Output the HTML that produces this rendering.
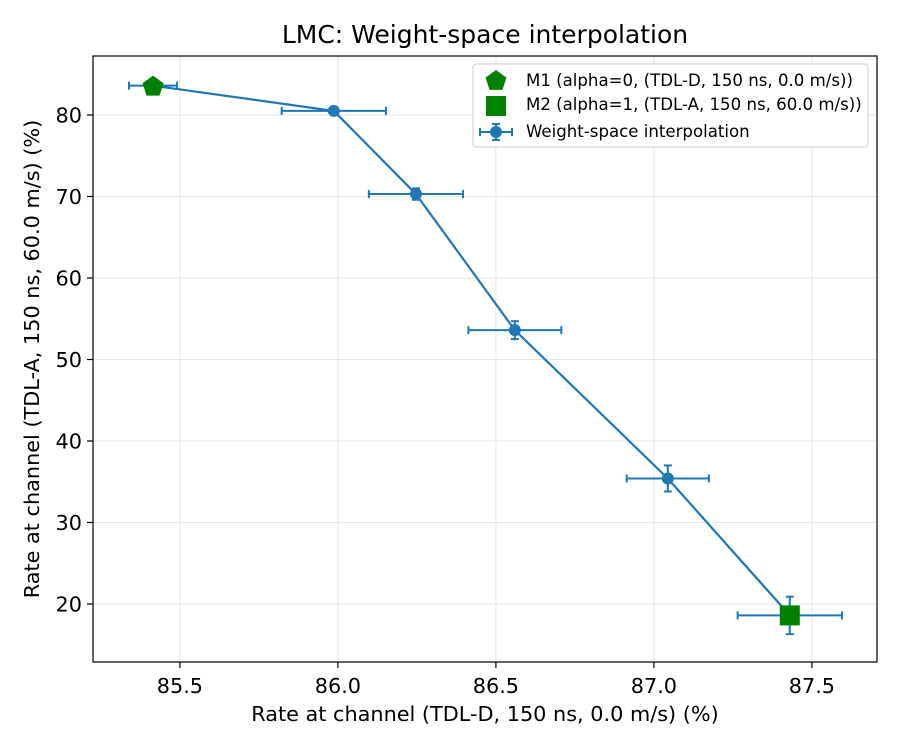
<!DOCTYPE html>
<html><head><meta charset="utf-8"><style>
html,body{margin:0;padding:0;background:#fff;}
svg{display:block;font-family:"DejaVu Sans","Liberation Sans",sans-serif;}
</style></head><body>
<svg id="chart" width="900" height="750" viewBox="0 0 900 750"></svg>
<script>
const xVals=[85.415,85.987,86.247,86.56,87.044,87.43];
const yVals=[83.6,80.5,70.3,53.6,35.4,18.6];
const xErr=[0.076,0.165,0.149,0.147,0.13,0.165];
const yErr=[0.3,0.3,0.7,1.1,1.6,2.3];
const m1=[85.415,83.6];
const m2=[87.43,18.6];
const xTicks=[85.5,86.0,86.5,87.0,87.5];
const yTicks=[20,30,40,50,60,70,80];

const L=93,R=877,T=56,B=662;
const xmin=85.225,xmax=87.706,ymin=12.88,ymax=87.24;
const sx=v=>L+(v-xmin)/(xmax-xmin)*(R-L);
const sy=v=>B-(v-ymin)/(ymax-ymin)*(B-T);
const svg=document.getElementById('chart');
const NS='http://www.w3.org/2000/svg';
function mk(tag,attrs,parent){const e=document.createElementNS(NS,tag);for(const k in attrs)e.setAttribute(k,attrs[k]);(parent||svg).appendChild(e);return e;}

const grid=mk('g',{});


xTicks.forEach(t=>{
  mk('line',{x1:sx(t),x2:sx(t),y1:T,y2:B,stroke:'#e6e6e6','stroke-width':1},grid);
  mk('line',{x1:sx(t),x2:sx(t),y1:B,y2:B+6,stroke:'#000','stroke-width':1.2},grid);
  const tx=mk('text',{x:sx(t),y:693,'text-anchor':'middle','font-size':'20.8'},grid);
  tx.textContent=t.toFixed(1);
  
  
});
yTicks.forEach(t=>{
  mk('line',{x1:L,x2:R,y1:sy(t),y2:sy(t),stroke:'#e6e6e6','stroke-width':1},grid);
  mk('line',{x1:L-6,x2:L,y1:sy(t),y2:sy(t),stroke:'#000','stroke-width':1.2},grid);
  const tx=mk('text',{x:L-11,y:sy(t)+7.5,'text-anchor':'end','font-size':'20.8'},grid);
  tx.textContent=t;
  
  
});

const c='#1f77b4';
const series=mk('g',{});


for(let i=0;i<xVals.length;i++){
  const x=sx(xVals[i]),y=sy(yVals[i]);
  const x1=sx(xVals[i]-xErr[i]),x2=sx(xVals[i]+xErr[i]);
  const y1=sy(yVals[i]-yErr[i]),y2=sy(yVals[i]+yErr[i]);
  mk('line',{x1:x1,x2:x2,y1:y,y2:y,stroke:c,'stroke-width':2},series);
  mk('line',{x1:x1,x2:x1,y1:y-4,y2:y+4,stroke:c,'stroke-width':2},series);
  mk('line',{x1:x2,x2:x2,y1:y-4,y2:y+4,stroke:c,'stroke-width':2},series);
  mk('line',{x1:x,x2:x,y1:y1,y2:y2,stroke:c,'stroke-width':2},series);
  mk('line',{x1:x-4,x2:x+4,y1:y1,y2:y1,stroke:c,'stroke-width':2},series);
  mk('line',{x1:x-4,x2:x+4,y1:y2,y2:y2,stroke:c,'stroke-width':2},series);
}
mk('polyline',{points:xVals.map((v,i)=>sx(v)+','+sy(yVals[i])).join(' '),fill:'none',stroke:c,'stroke-width':2.2},series);
xVals.forEach((v,i)=>{
  const p=mk('circle',{cx:sx(v),cy:sy(yVals[i]),r:6,fill:c},series);
  
  
});

function pent(cx,cy,r){let pts=[];for(let k=0;k<5;k++){const a=-Math.PI/2+k*2*Math.PI/5;pts.push((cx+r*Math.cos(a))+','+(cy+r*Math.sin(a)));}return pts.join(' ');}
const p1=mk('polygon',{points:pent(sx(m1[0]),sy(m1[1])+1,11),fill:'green'});


const p2=mk('rect',{x:sx(m2[0])-10,y:sy(m2[1])-10,width:20,height:20,fill:'green'});



const frame=mk('rect',{x:L,y:T,width:R-L,height:B-T,fill:'none',stroke:'#000','stroke-width':1.2});



const title=mk('text',{x:485,y:43,'text-anchor':'middle','font-size':'25'});
title.textContent='LMC: Weight-space interpolation';


const xt=mk('text',{x:485,y:721,'text-anchor':'middle','font-size':'20.8'});
xt.textContent='Rate at channel (TDL-D, 150 ns, 0.0 m/s) (%)';


const yt=mk('text',{x:0,y:0,'text-anchor':'middle','font-size':'20.8',transform:'translate(39,359) rotate(-90)'});
yt.textContent='Rate at channel (TDL-A, 150 ns, 60.0 m/s) (%)';



const lg=mk('g',{});


mk('rect',{x:473,y:64,width:395,height:83,rx:3,fill:'#fff',stroke:'#ccc','stroke-width':1},lg);
mk('polygon',{points:pent(496,81,11),fill:'green'},lg);
mk('rect',{x:486,y:96,width:20,height:20,fill:'green'},lg);
mk('line',{x1:480,x2:512,y1:132,y2:132,stroke:c,'stroke-width':2},lg);
mk('line',{x1:496,x2:496,y1:124,y2:140,stroke:c,'stroke-width':2},lg);
mk('line',{x1:492,x2:500,y1:124,y2:124,stroke:c,'stroke-width':2},lg);
mk('line',{x1:492,x2:500,y1:140,y2:140,stroke:c,'stroke-width':2},lg);
mk('line',{x1:480,x2:480,y1:128,y2:136,stroke:c,'stroke-width':2},lg);
mk('line',{x1:512,x2:512,y1:128,y2:136,stroke:c,'stroke-width':2},lg);
mk('circle',{cx:496,cy:132,r:6,fill:c},lg);
[['M1 (alpha=0, (TDL-D, 150 ns, 0.0 m/s))',86],['M2 (alpha=1, (TDL-A, 150 ns, 60.0 m/s))',110],['Weight-space interpolation',137]].forEach(([s,y])=>{
  const t=mk('text',{x:526,y:y,'font-size':'16.6'},lg);t.textContent=s;
  
  
});
</script>
</body></html>
